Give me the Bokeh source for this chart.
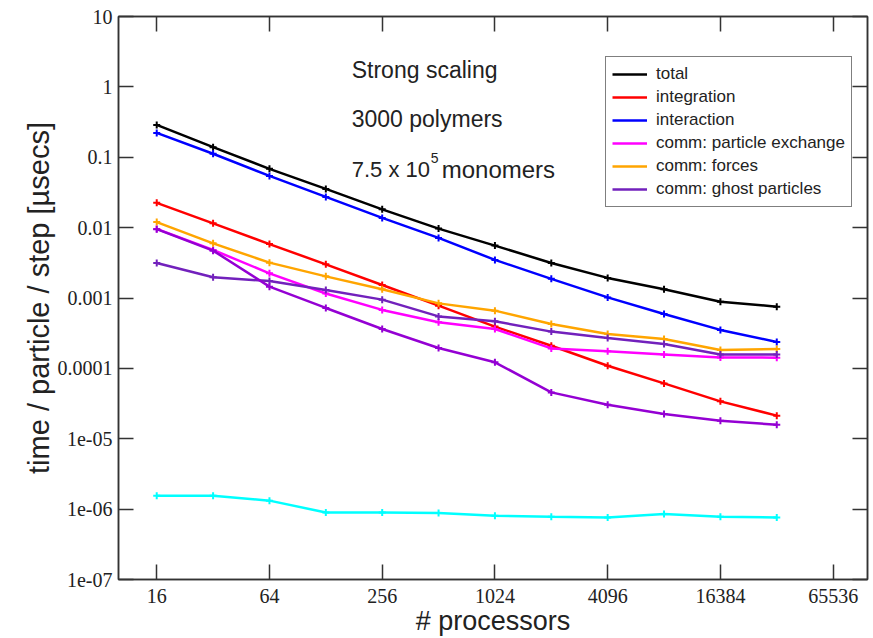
from bokeh.plotting import figure
from bokeh.models import (LogAxis, FixedTicker, Legend, LegendItem, Label, Range1d,
                          CustomJSTickFormatter)
from bokeh.embed import file_html
from bokeh.resources import INLINE

# ---------------- data ----------------
processors = [16, 32, 64, 128, 256, 512, 1024, 2048, 4096, 8192, 16384, 32768]

total = [0.288, 0.139, 0.0684, 0.0355, 0.0182, 0.00968, 0.00555, 0.00315,
         0.00193, 0.00133, 0.000887, 0.000753]
integration = [0.0225, 0.0115, 0.00583, 0.00301, 0.00153, 0.000778, 0.000392,
               0.000210, 0.000109, 6.12e-5, 3.40e-5, 2.13e-5]
interaction = [0.222, 0.112, 0.0543, 0.0273, 0.01374, 0.00714, 0.00348,
               0.00187, 0.00102, 0.000593, 0.000352, 0.000237]
comm_particle_exchange = [0.00959, 0.00482, 0.00224, 0.00116, 0.000677, 0.000451,
                          0.000363, 0.000192, 0.000175, 0.000157, 0.000143, 0.000142]
comm_forces = [0.01198, 0.00598, 0.00318, 0.00203, 0.00133, 0.000839, 0.000661,
               0.000428, 0.000308, 0.000262, 0.000183, 0.000189]
comm_ghost_particles = [0.00315, 0.00197, 0.00174, 0.00130, 0.000948, 0.000548,
                        0.000466, 0.000333, 0.000271, 0.000222, 0.000157, 0.000157]
unlabeled_violet = [0.0095, 0.00471, 0.00145, 0.000722, 0.000363, 0.000195,
                    0.000122, 4.56e-5, 3.05e-5, 2.25e-5, 1.80e-5, 1.58e-5]
unlabeled_cyan = [1.55e-6, 1.55e-6, 1.32e-6, 8.97e-7, 8.97e-7, 8.8e-7, 8.05e-7,
                  7.8e-7, 7.6e-7, 8.5e-7, 7.8e-7, 7.6e-7]

x_ticks = [16, 64, 256, 1024, 4096, 16384, 65536]
x_tick_labels = ["16", "64", "256", "1024", "4096", "16384", "65536"]
y_ticks = [1e-7, 1e-6, 1e-5, 1e-4, 1e-3, 1e-2, 1e-1, 1, 10]
y_tick_labels = ["1e-07", "1e-06", "1e-05", "0.0001", "0.001", "0.01", "0.1", "1", "10"]

series = [
    ("total", total, "#000000"),
    ("integration", integration, "#FF0000"),
    ("interaction", interaction, "#0000FF"),
    ("comm: particle exchange", comm_particle_exchange, "#FF00FF"),
    ("comm: forces", comm_forces, "#FFA500"),
    ("comm: ghost particles", comm_ghost_particles, "#7221BC"),
    (None, unlabeled_violet, "#9400D3"),
    (None, unlabeled_cyan, "#00FFFF"),
]

# ---------------- figure ----------------
p = figure(width=873, height=638, x_axis_type="log", y_axis_type="log",
           x_range=Range1d(10, 100000), y_range=Range1d(1e-7, 10),
           output_backend="svg", toolbar_location=None,
           min_border_left=118, min_border_right=6, min_border_top=16,
           min_border_bottom=59)
p.grid.visible = False
p.background_fill_color = "white"
p.border_fill_color = "white"
p.outline_line_color = "#333333"
p.outline_line_width = 1.5

AXIS_COLOR = "#333333"
SERIF = "Liberation Serif"
SANS = "Liberation Sans"


def fmt(tv, tl):
    return CustomJSTickFormatter(args=dict(tvals=tv, tlabels=tl), code="""
        for (let i = 0; i < tvals.length; i++) {
            if (Math.abs(Math.log(tvals[i]) - Math.log(tick)) < 1e-6) { return tlabels[i]; }
        }
        return "";
    """)


def style_axis(ax):
    ax.axis_line_color = AXIS_COLOR
    ax.axis_line_width = 1.5
    ax.major_tick_line_color = AXIS_COLOR
    ax.major_tick_line_width = 1.5
    ax.major_tick_in = 15
    ax.major_tick_out = 0
    ax.minor_tick_line_color = None


xa = p.xaxis[0]
xa.ticker = FixedTicker(ticks=x_ticks)
xa.formatter = fmt(x_ticks, x_tick_labels)
style_axis(xa)
xa.major_label_text_font = SERIF
xa.major_label_text_font_size = "20px"
xa.major_label_text_color = "#222222"
xa.major_label_standoff = 9
xa.axis_label = "# processors"
xa.axis_label_text_font = SANS
xa.axis_label_text_font_size = "27px"
xa.axis_label_text_font_style = "normal"
xa.axis_label_text_color = "#222222"
xa.axis_label_standoff = 0

ya = p.yaxis[0]
ya.ticker = FixedTicker(ticks=y_ticks)
ya.formatter = fmt(y_ticks, y_tick_labels)
style_axis(ya)
ya.major_label_text_font = SERIF
ya.major_label_text_font_size = "20px"
ya.major_label_text_color = "#222222"
ya.major_label_standoff = 6
ya.axis_label = "time / particle / step [\u00b5secs]"
ya.axis_label_text_font = SANS
ya.axis_label_text_font_size = "29px"
ya.axis_label_text_font_style = "normal"
ya.axis_label_text_color = "#222222"
ya.axis_label_standoff = 0

top_axis = LogAxis(ticker=FixedTicker(ticks=x_ticks), formatter=fmt(x_ticks, x_tick_labels))
style_axis(top_axis)
top_axis.major_label_text_font_size = "0px"
top_axis.major_label_text_alpha = 0
top_axis.major_label_standoff = 0
p.add_layout(top_axis, "above")

right_axis = LogAxis(ticker=FixedTicker(ticks=y_ticks), formatter=fmt(y_ticks, y_tick_labels))
style_axis(right_axis)
right_axis.major_label_text_font_size = "0px"
right_axis.major_label_text_alpha = 0
right_axis.major_label_standoff = 0
p.add_layout(right_axis, "right")

# ---------------- series ----------------
items = []
for name, vals, color in series:
    ln = p.line(processors, vals, line_color=color, line_width=2.5)
    p.scatter(processors, vals, marker="cross", size=7, line_color=color, line_width=2)
    if name is not None:
        items.append(LegendItem(label=name, renderers=[ln]))

legend = Legend(items=items, location=(487, 372), margin=0,
                label_text_font=SANS, label_text_font_size="17px",
                label_text_color="#222222",
                glyph_width=35, glyph_height=22, label_height=22, spacing=1,
                padding=6, label_standoff=9,
                border_line_color="#000000", border_line_width=1,
                background_fill_color="white", background_fill_alpha=1)
p.add_layout(legend, "center")

# ---------------- annotations ----------------
ann_color = "#222222"
p.add_layout(Label(x=176, y=1.764, text="Strong scaling", text_baseline="middle",
                   text_font=SANS, text_font_size="23px", text_color=ann_color))
p.add_layout(Label(x=176, y=0.3467, text="3000 polymers", text_baseline="middle",
                   text_font=SANS, text_font_size="23px", text_color=ann_color))
p.add_layout(Label(x=176, y=0.0675, text="7.5 x 10", text_baseline="middle",
                   text_font=SANS, text_font_size="22px", text_color=ann_color))
p.add_layout(Label(x=176, y=0.0675, x_offset=79, y_offset=11, text="5",
                   text_baseline="middle", text_font=SANS, text_font_size="14px",
                   text_color=ann_color))
p.add_layout(Label(x=176, y=0.0675, x_offset=90, text="monomers", text_baseline="middle",
                   text_font=SANS, text_font_size="24px", text_color=ann_color))

open("out.html", "w").write(file_html(p, INLINE))
